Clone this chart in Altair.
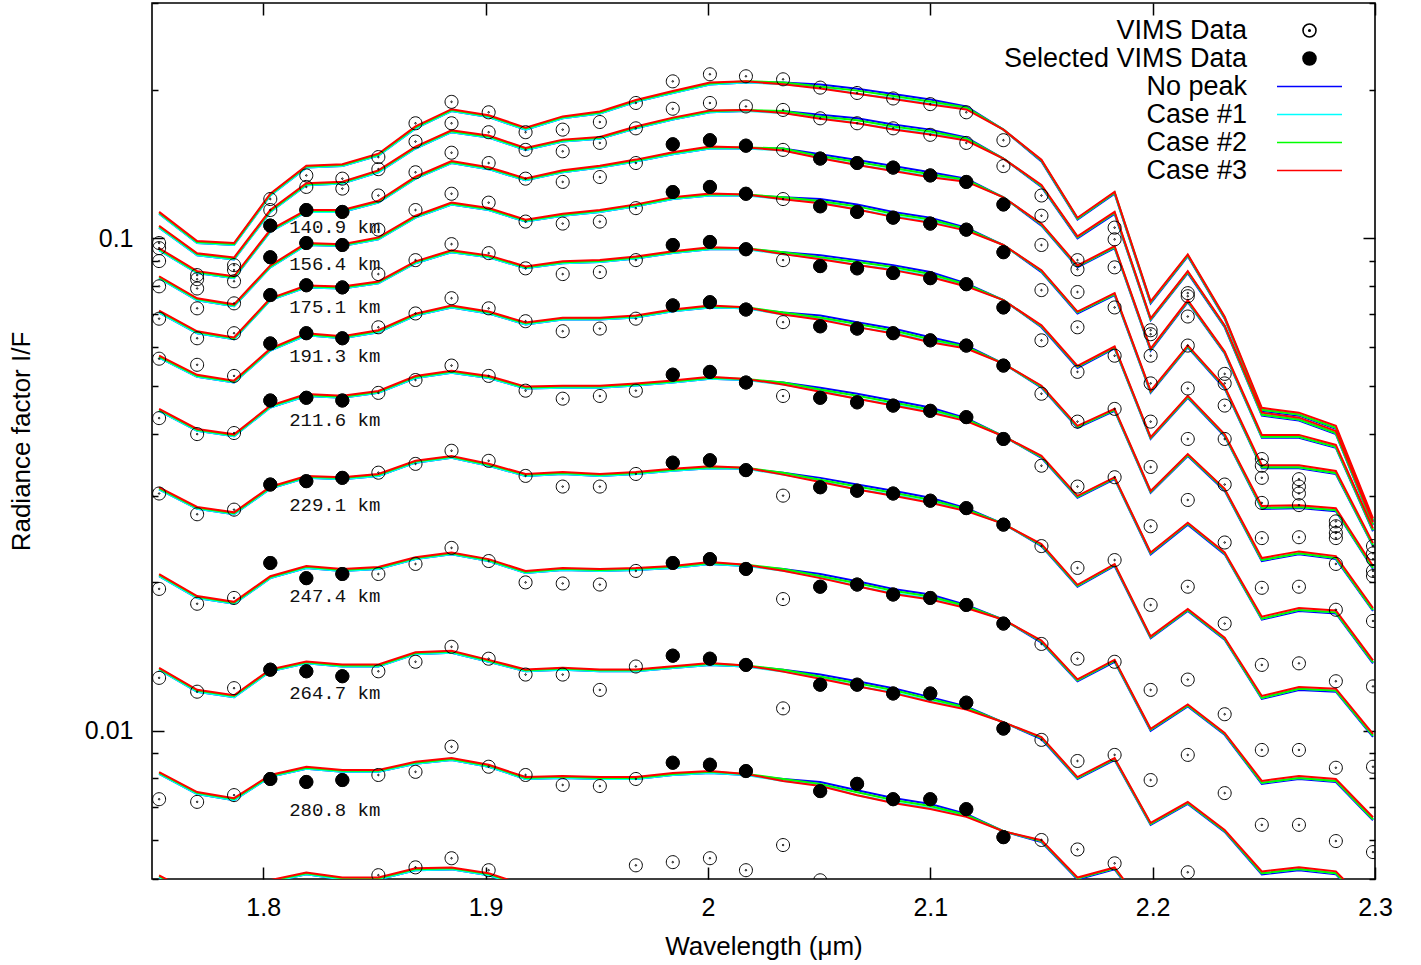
import altair as alt
import pandas as pd

# ---------------- data ----------------
WAVELENGTH = [1.7532, 1.7703, 1.7869, 1.8032, 1.8194, 1.8356, 1.8518, 1.8685, 1.8847, 1.9014,
              1.9180, 1.9347, 1.9514, 1.9676, 1.9842, 2.0009, 2.0171, 2.0338, 2.0505, 2.0671,
              2.0833, 2.1000, 2.1162, 2.1329, 2.1500, 2.1662, 2.1829, 2.1991, 2.2158, 2.2324,
              2.2491, 2.2658, 2.2824, 2.2991]

CURVE_IDS = ["C01", "C02", "C03", "C04", "C05", "C06", "C07", "C08", "C09", "C10", "C11", "C12"]
ALTITUDE_LABELS = ["", "", "140.9 km", "156.4 km", "175.1 km", "191.3 km", "211.6 km",
                   "229.1 km", "247.4 km", "264.7 km", "280.8 km", ""]
LABEL_WAVELENGTH = 1.8527
LABEL_IF = [None, None, 0.1052, 0.0885, 0.0723, 0.0577, 0.0427, 0.0287, 0.0188, 0.0119, 0.00690, None]

# "No peak" model (I/F) for each tangent altitude, top to bottom
M01 = [0.112, 0.0977, 0.0968, 0.122, 0.139, 0.140, 0.147, 0.167, 0.181, 0.176,
       0.166, 0.175, 0.179, 0.189, 0.197, 0.205, 0.207, 0.207, 0.205, 0.201,
       0.196, 0.191, 0.185, 0.166, 0.143, 0.109, 0.123, 0.0737, 0.0918, 0.0686,
       0.0446, 0.0436, 0.0410, 0.0266]
M02 = [0.105, 0.0923, 0.0905, 0.113, 0.128, 0.129, 0.136, 0.152, 0.164, 0.160,
       0.151, 0.157, 0.159, 0.167, 0.174, 0.180, 0.181, 0.181, 0.178, 0.175,
       0.170, 0.166, 0.160, 0.145, 0.127, 0.0999, 0.112, 0.0681, 0.0849, 0.0659,
       0.0436, 0.0426, 0.0400, 0.0261]
M03 = [0.0945, 0.0849, 0.0829, 0.103, 0.113, 0.113, 0.118, 0.132, 0.142, 0.138,
       0.131, 0.136, 0.139, 0.143, 0.148, 0.152, 0.152, 0.152, 0.148, 0.144,
       0.140, 0.136, 0.132, 0.121, 0.106, 0.0872, 0.0954, 0.0591, 0.0741, 0.0583,
       0.0393, 0.0393, 0.0375, 0.0254]
M04 = [0.0829, 0.0748, 0.0727, 0.0872, 0.0968, 0.0963, 0.0994, 0.110, 0.117, 0.114,
       0.108, 0.111, 0.113, 0.116, 0.120, 0.122, 0.122, 0.121, 0.120, 0.117,
       0.113, 0.110, 0.105, 0.0968, 0.0853, 0.0703, 0.0766, 0.0485, 0.0600, 0.0495,
       0.0341, 0.0341, 0.0332, 0.0237]
M05 = [0.0706, 0.0641, 0.0623, 0.0748, 0.0794, 0.0790, 0.0809, 0.0889, 0.0936, 0.0914,
       0.0868, 0.0889, 0.0894, 0.0909, 0.0932, 0.0949, 0.0949, 0.0936, 0.0923, 0.0902,
       0.0881, 0.0853, 0.0809, 0.0748, 0.0659, 0.0545, 0.0597, 0.0391, 0.0474, 0.0396,
       0.0282, 0.0283, 0.0279, 0.0213]
M06 = [0.0572, 0.0523, 0.0509, 0.0591, 0.0635, 0.0626, 0.0644, 0.0696, 0.0723, 0.0703,
       0.0668, 0.0683, 0.0683, 0.0690, 0.0710, 0.0723, 0.0720, 0.0706, 0.0696, 0.0675,
       0.0655, 0.0629, 0.0605, 0.0556, 0.0497, 0.0412, 0.0446, 0.0304, 0.0361, 0.0307,
       0.0221, 0.0228, 0.0223, 0.0175]
M07 = [0.0446, 0.0406, 0.0396, 0.0453, 0.0478, 0.0474, 0.0485, 0.0520, 0.0533, 0.0520,
       0.0495, 0.0497, 0.0497, 0.0502, 0.0509, 0.0518, 0.0515, 0.0509, 0.0497, 0.0483,
       0.0468, 0.0453, 0.0431, 0.0396, 0.0358, 0.0297, 0.0324, 0.0228, 0.0262, 0.0228,
       0.0168, 0.0175, 0.0173, 0.0137]
M08 = [0.0309, 0.0282, 0.0275, 0.0310, 0.0326, 0.0324, 0.0329, 0.0350, 0.0358, 0.0345,
       0.0329, 0.0332, 0.0329, 0.0332, 0.0337, 0.0341, 0.0340, 0.0334, 0.0326, 0.0316,
       0.0307, 0.0297, 0.0283, 0.0263, 0.0237, 0.0196, 0.0216, 0.0154, 0.0175, 0.0153,
       0.0116, 0.0121, 0.0120, 0.00972]
M09 = [0.0206, 0.0186, 0.0181, 0.0204, 0.0214, 0.0211, 0.0213, 0.0223, 0.0228, 0.0221,
       0.0209, 0.0212, 0.0211, 0.0212, 0.0214, 0.0218, 0.0216, 0.0213, 0.0208, 0.0201,
       0.0194, 0.0189, 0.0180, 0.0168, 0.0151, 0.0126, 0.0138, 0.0100, 0.0112, 0.00981,
       0.00780, 0.00798, 0.00787, 0.00658]
M10 = [0.0133, 0.0120, 0.0117, 0.0132, 0.0137, 0.0135, 0.0135, 0.0143, 0.0144, 0.0138,
       0.0132, 0.0133, 0.0132, 0.0132, 0.0134, 0.0136, 0.0135, 0.0133, 0.0130, 0.0126,
       0.0122, 0.0117, 0.0112, 0.0104, 0.00962, 0.00798, 0.00872, 0.00644, 0.00710, 0.00623,
       0.00511, 0.00521, 0.00511, 0.00428]
M11 = [0.00817, 0.00744, 0.00723, 0.00806, 0.00837, 0.00825, 0.00825, 0.00857, 0.00872, 0.00845,
       0.00798, 0.00802, 0.00798, 0.00798, 0.00813, 0.00821, 0.00813, 0.00798, 0.00787, 0.00757,
       0.00730, 0.00710, 0.00678, 0.00625, 0.00594, 0.00499, 0.00523, 0.00418, 0.00459, 0.00399,
       0.00339, 0.00347, 0.00339, 0.00280]
M12 = [0.00504, 0.00459, 0.00449, 0.00493, 0.00511, 0.00499, 0.00499, 0.00521, 0.00523, 0.00509,
       0.00481, 0.00484, 0.00481, 0.00481, 0.00488, 0.00493, 0.00488, 0.00479, 0.00470, 0.00452,
       0.00436, 0.00422, 0.00403, 0.00372, 0.00356, None, None, None, None, None,
       None, None, None, None]

# Ratio of each case to the "No peak" model, per channel
CASE1_RATIO = [1.000, 1.000, 1.000, 1.000, 1.000, 1.000, 1.000, 1.000, 1.000, 1.000,
               1.000, 1.000, 1.000, 1.000, 1.000, 1.000, 1.000, 0.991, 0.986, 0.977,
               0.981, 0.981, 0.991, 1.000, 1.005, 1.005, 1.005, 1.005, 1.005, 1.005,
               1.005, 1.005, 1.005, 1.005]
CASE2_RATIO = [1.005, 1.005, 1.005, 1.005, 1.005, 1.005, 1.005, 1.005, 1.005, 1.005,
               1.005, 1.005, 1.005, 1.005, 1.005, 1.005, 1.005, 1.000, 0.991, 0.991,
               0.991, 0.991, 0.995, 1.000, 1.005, 1.005, 1.005, 1.005, 1.005, 1.005,
               1.005, 1.005, 1.005, 1.005]
CASE3_RATIO = [1.009, 1.009, 1.009, 1.009, 1.009, 1.009, 1.009, 1.009, 1.009, 1.009,
               1.009, 1.009, 1.009, 1.009, 1.009, 1.009, 1.005, 0.991, 0.981, 0.977,
               0.977, 0.977, 0.986, 1.000, 1.009, 1.009, 1.009, 1.009, 1.009, 1.009,
               1.014, 1.014, 1.014, 1.014]

# VIMS measurements (I/F)
D01 = [0.0977, 0.0841, 0.0881, 0.120, 0.134, 0.132, 0.146, 0.171, 0.189, 0.180,
       0.164, 0.166, 0.172, 0.188, 0.208, 0.215, 0.213, 0.210, 0.202, 0.197,
       0.192, 0.187, 0.180, 0.158, 0.122, 0.0902, 0.105, 0.0650, 0.0773, 0.0530,
       0.0356, 0.0324, 0.0266, 0.0237]
D02 = [0.0954, 0.0825, 0.0861, 0.114, 0.127, 0.126, 0.138, 0.157, 0.171, 0.164,
       0.151, 0.150, 0.156, 0.167, 0.183, 0.188, 0.185, 0.182, 0.175, 0.171,
       0.167, 0.162, 0.156, 0.140, 0.111, 0.0864, 0.0994, 0.0638, 0.0762, 0.0507,
       0.0345, 0.0313, 0.0260, 0.0229]
D03 = [0.0898, 0.0790, 0.0817, 0.106, 0.114, 0.113, 0.122, 0.136, 0.149, 0.142,
       0.132, 0.130, 0.133, 0.142, 0.155, 0.158, 0.154, 0.151, 0.145, 0.142,
       0.139, 0.134, 0.130, 0.117, 0.0968, 0.0777, 0.0872, 0.0577, 0.0693, 0.0457,
       0.0326, 0.0303, 0.0252, 0.0223]
D04 = [0.0798, 0.0720, 0.0737, 0.0914, 0.0977, 0.0968, 0.104, 0.114, 0.123, 0.118,
       0.108, 0.107, 0.108, 0.115, 0.124, 0.127, 0.123, 0.120, 0.116, 0.113,
       0.110, 0.107, 0.104, 0.0936, 0.0784, 0.0659, 0.0723, 0.0507, 0.0605, 0.0391,
       0.0290, 0.0287, 0.0246, 0.0211]
D05 = [0.0686, 0.0626, 0.0641, 0.0766, 0.0802, 0.0794, 0.0845, 0.0902, 0.0972, 0.0932,
       0.0868, 0.0845, 0.0853, 0.0902, 0.0968, 0.0982, 0.0949, 0.0902, 0.0877, 0.0868,
       0.0849, 0.0829, 0.0806, 0.0723, 0.0620, 0.0535, 0.0577, 0.0424, 0.0495, 0.0316,
       0.0246, 0.0247, 0.0218, 0.0206]
D06 = [0.0569, 0.0553, 0.0525, 0.0611, 0.0641, 0.0626, 0.0659, 0.0703, 0.0755, 0.0720,
       0.0678, 0.0647, 0.0655, 0.0686, 0.0730, 0.0741, 0.0716, 0.0675, 0.0662, 0.0655,
       0.0641, 0.0620, 0.0605, 0.0551, 0.0483, 0.0424, 0.0450, 0.0343, 0.0391, 0.0241,
       0.0195, 0.0196, 0.0176, 0.0167]
D07 = [0.0431, 0.0400, 0.0402, 0.0468, 0.0474, 0.0468, 0.0485, 0.0515, 0.0551, 0.0525,
       0.0490, 0.0472, 0.0478, 0.0490, 0.0528, 0.0535, 0.0509, 0.0478, 0.0474, 0.0464,
       0.0457, 0.0446, 0.0433, 0.0391, 0.0345, 0.0313, 0.0327, 0.0260, 0.0294, 0.0165,
       0.0136, 0.0137, 0.0126, 0.0123]
D08 = [0.0303, 0.0275, 0.0281, 0.0316, 0.0321, 0.0326, 0.0334, 0.0348, 0.0370, 0.0353,
       0.0329, 0.0313, 0.0313, 0.0332, 0.0350, 0.0354, 0.0338, 0.0300, 0.0312, 0.0307,
       0.0303, 0.0293, 0.0283, 0.0262, 0.0237, 0.0214, 0.0222, 0.0180, 0.0196, 0.0108,
       0.00914, 0.00914, 0.00841, 0.00845]
D09 = [0.0194, 0.0181, 0.0186, 0.0219, 0.0204, 0.0208, 0.0208, 0.0218, 0.0235, 0.0221,
       0.0200, 0.0199, 0.0198, 0.0211, 0.0219, 0.0223, 0.0213, 0.0185, 0.0196, 0.0198,
       0.0189, 0.0186, 0.0180, 0.0165, 0.0150, 0.0140, 0.0138, 0.0121, 0.0127, 0.00747,
       0.00644, 0.00644, 0.00597, 0.00567]
D10 = [0.0128, 0.0120, 0.0122, 0.0133, 0.0132, 0.0129, 0.0132, 0.0138, 0.0148, 0.0140,
       0.0130, 0.0130, 0.0121, 0.0135, 0.0142, 0.0140, 0.0136, 0.0111, 0.0124, 0.0124,
       0.0119, 0.0119, 0.0114, 0.0101, 0.00958, 0.00868, 0.00893, 0.00794, 0.00893, None,
       None, None, None, None]
D11 = [0.00726, 0.00717, 0.00740, 0.00798, 0.00787, 0.00794, 0.00813, 0.00825, 0.00928, 0.00845,
       0.00813, 0.00776, 0.00772, 0.00798, 0.00861, 0.00853, 0.00828, 0.00586, 0.00754, 0.00780,
       0.00726, 0.00726, 0.00693, 0.00608, 0.00600, 0.00574, 0.00538, None, 0.00516, None,
       None, None, None, None]
D12 = [None, None, None, None, None, None, 0.00509, 0.00528, 0.00551, 0.00521,
       None, None, None, 0.00533, 0.00541, 0.00551, 0.00521, None, 0.00497, None,
       None, None, None, None, None, None, None, None, None, None,
       None, None, None, None]

SELECTED_CHANNELS = [3, 4, 5, 14, 15, 16, 18, 19, 20, 21, 22, 23]
SELECTED_CURVES = ["C03", "C04", "C05", "C06", "C07", "C08", "C09", "C10", "C11"]

SERIES = ["VIMS Data", "Selected VIMS Data", "No peak", "Case #1", "Case #2", "Case #3"]
SERIES_STROKE = ["#000000", "#000000", "#0000ff", "#00ffff", "#00ff00", "#ff0000"]
SERIES_FILL = ["transparent", "#000000", "transparent", "transparent", "transparent", "transparent"]
DOT_CIRCLE = ("M1,0A1,1,0,1,1,-1,0A1,1,0,1,1,1,0Z"
              "M0.12,0A0.12,0.12,0,1,1,-0.12,0A0.12,0.12,0,1,1,0.12,0Z")
LINE_SYMBOL = "M-5,0L5,0"
SERIES_SHAPE = [DOT_CIRCLE, DOT_CIRCLE, LINE_SYMBOL, LINE_SYMBOL, LINE_SYMBOL, LINE_SYMBOL]

X_TICKS = [1.8, 1.9, 2.0, 2.1, 2.2, 2.3]
Y_MAJOR = [0.01, 0.1]
Y_MINOR = [0.005, 0.006, 0.007, 0.008, 0.009, 0.02, 0.03, 0.04, 0.05, 0.06,
           0.07, 0.08, 0.09, 0.2, 0.3]

# ---------------- tables ----------------
MODELS = [M01, M02, M03, M04, M05, M06, M07, M08, M09, M10, M11, M12]
DATA = [D01, D02, D03, D04, D05, D06, D07, D08, D09, D10, D11, D12]
for arr in MODELS + DATA + [CASE1_RATIO, CASE2_RATIO, CASE3_RATIO]:
    assert len(arr) == len(WAVELENGTH), len(arr)

line_rows, pt_rows, sel_rows = [], [], []
for cid, model, meas in zip(CURVE_IDS, MODELS, DATA):
    for i, w in enumerate(WAVELENGTH):
        m = model[i]
        if m is not None:
            line_rows.append({"wavelength": w, "value": m, "curve": cid, "series": "No peak"})
            line_rows.append({"wavelength": w, "value": m * CASE1_RATIO[i], "curve": cid, "series": "Case #1"})
            line_rows.append({"wavelength": w, "value": m * CASE2_RATIO[i], "curve": cid, "series": "Case #2"})
            line_rows.append({"wavelength": w, "value": m * CASE3_RATIO[i], "curve": cid, "series": "Case #3"})
        d = meas[i]
        if d is not None:
            pt_rows.append({"wavelength": w, "value": d, "curve": cid, "series": "VIMS Data"})
            if cid in SELECTED_CURVES and i in SELECTED_CHANNELS:
                sel_rows.append({"wavelength": w, "value": d, "curve": cid, "series": "Selected VIMS Data"})

df_lines = pd.DataFrame(line_rows)
df_pts = pd.DataFrame(pt_rows)
df_sel = pd.DataFrame(sel_rows)
df_lab = pd.DataFrame([{"wavelength": LABEL_WAVELENGTH, "value": v, "label": t}
                       for t, v in zip(ALTITUDE_LABELS, LABEL_IF) if v is not None])

# ---------------- encodings ----------------
FONT = "Liberation Sans"
xscale = alt.Scale(domain=[1.75, 2.3], nice=False, zero=False)
yscale = alt.Scale(type="log", domain=[0.005, 0.3], nice=False)


def xenc(axis):
    return alt.X("wavelength:Q", scale=xscale, axis=axis)


def yenc(axis):
    return alt.Y("value:Q", scale=yscale, axis=axis)


AX_BOTTOM = alt.Axis(orient="bottom", values=X_TICKS, format="~g", tickSize=12, offset=-12,
                     labelFontSize=25, labelPadding=16, title="Wavelength (μm)",
                     titleFontSize=26, titlePadding=13)
AX_TOP = alt.Axis(orient="top", values=X_TICKS, tickSize=12, offset=-12, labels=False, title=None)
AY_LEFT_MAJOR = alt.Axis(orient="left", values=Y_MAJOR, format="~g", tickSize=12, offset=-12,
                         labelFontSize=25, labelPadding=19, title="Radiance factor I/F",
                         titleFontSize=26, titlePadding=50)
AY_LEFT_MINOR = alt.Axis(orient="left", values=Y_MINOR, tickSize=6, offset=-6, labels=False, title=None)
AY_RIGHT_MAJOR = alt.Axis(orient="right", values=Y_MAJOR, tickSize=12, offset=-12, labels=False, title=None)
AY_RIGHT_MINOR = alt.Axis(orient="right", values=Y_MINOR, tickSize=6, offset=-6, labels=False, title=None)

LEGEND = alt.Legend(title=None, orient="none", legendX=1144, legendY=14, labelAlign="right",
                    labelOffset={"expr": "-76"}, labelFont=FONT, labelFontSize=27,
                    labelColor="black", labelLimit=400, symbolSize=169, symbolStrokeWidth=1.6,
                    rowPadding=0, padding=0, symbolOpacity=1)
stroke = alt.Stroke("series:N", scale=alt.Scale(domain=SERIES, range=SERIES_STROKE), legend=LEGEND)
fill = alt.Fill("series:N", scale=alt.Scale(domain=SERIES, range=SERIES_FILL), legend=LEGEND)
shape = alt.Shape("series:N", scale=alt.Scale(domain=SERIES, range=SERIES_SHAPE), legend=LEGEND)

layers = []
for k, s in enumerate(["No peak", "Case #1", "Case #2", "Case #3"]):
    layers.append(
        alt.Chart(df_lines)
        .mark_line(strokeWidth=2, clip=True, opacity=1)
        .transform_filter(alt.datum.series == s)
        .encode(x=xenc(AX_BOTTOM if k == 0 else None),
                y=yenc(AY_LEFT_MAJOR if k == 0 else None),
                stroke=stroke, detail="curve:N")
    )

pts = alt.Chart(df_pts).mark_point(size=169, strokeWidth=1, opacity=1, clip=True).encode(
    x=xenc(AX_TOP), y=yenc(AY_RIGHT_MAJOR), stroke=stroke, fill=fill, shape=shape)
sel = alt.Chart(df_sel).mark_point(size=169, strokeWidth=1, opacity=1, clip=True).encode(
    x=xenc(None), y=yenc(AY_LEFT_MINOR), stroke=stroke, fill=fill, shape=shape)
txt = alt.Chart(df_lab).mark_text(font="Liberation Mono", fontSize=19, align="right",
                                  baseline="middle", color="#111111").encode(
    x=xenc(None), y=yenc(AY_RIGHT_MINOR), text="label:N")

chart = (
    alt.layer(*layers, pts, sel, txt)
    .resolve_axis(x="independent", y="independent")
    .properties(width=1223, height=876,
                padding={"left": 152, "top": 3, "right": 46, "bottom": 86},
                autosize=alt.AutoSizeParams(type="none"), background="white")
    .configure_view(stroke="black", strokeWidth=1.6)
    .configure_axis(labelFont=FONT, titleFont=FONT, labelColor="black", titleColor="black",
                    tickColor="black", tickWidth=1.5, domain=False, grid=False,
                    titleFontWeight="normal", labelFlush=False, labelOverlap=False)
)

chart.save("out.html", embed_options={"renderer": "svg", "actions": False})
